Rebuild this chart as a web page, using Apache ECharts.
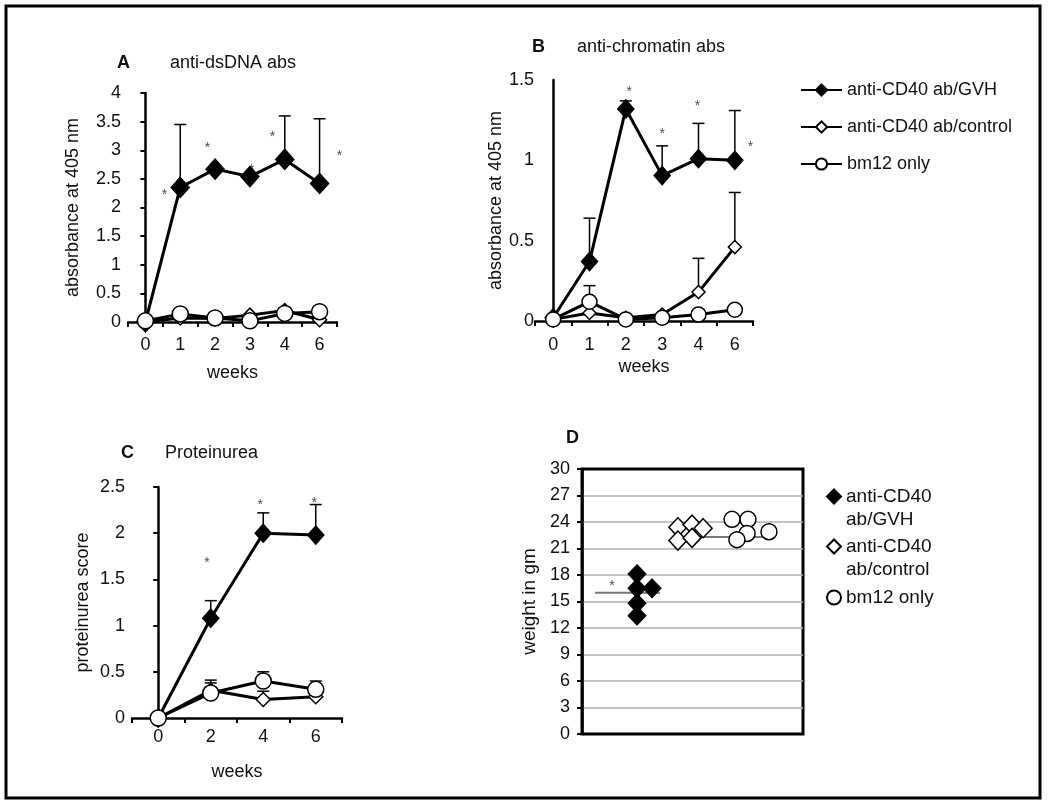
<!DOCTYPE html>
<html><head><meta charset="utf-8">
<script src="https://cdn.jsdelivr.net/npm/echarts@6/dist/echarts.min.js"></script>
<style>html,body{margin:0;padding:0;background:#fff}#c{width:1050px;height:809px}</style>
</head><body><div id="c"></div><script>
const FONT = 'Liberation Sans, Arial, sans-serif';
const seriesNames = ['anti-CD40 ab/GVH', 'anti-CD40 ab/control', 'bm12 only'];

// Panel A: anti-dsDNA abs
const weeksAB = ['0', '1', '2', '3', '4', '6'];
const aGvh = [0, 2.35, 2.67, 2.54, 2.84, 2.42];
const aCtrl = [0, 0.07, 0.06, 0.12, 0.2, 0.04];
const aBm12 = [0.02, 0.14, 0.07, 0.02, 0.15, 0.18];
const aGvhTop = [null, 3.45, null, null, 3.6, 3.55];
const aBm12Top = [null, 0.22, null, null, 0.25, null];
const aStarX = [0.55, 1.78, 3.05, 3.65, 5.57];
const aStarY = [2.29, 3.11, 2.72, 3.30, 2.97];

// Panel B: anti-chromatin abs
const bGvh = [0.02, 0.37, 1.32, 0.905, 1.01, 1.0];
const bCtrl = [0.01, 0.05, 0.02, 0.04, 0.18, 0.46];
const bBm12 = [0.01, 0.12, 0.01, 0.02, 0.04, 0.07];
const bGvhTop = [null, 0.64, 1.37, 1.09, 1.23, 1.31];
const bCtrlTop = [null, null, null, null, 0.39, 0.80];
const bBm12Top = [null, 0.22, null, null, null, null];
const bStarX = [2.09, 3.0, 3.97, 5.43];
const bStarY = [1.45, 1.19, 1.36, 1.11];

// Panel C: Proteinurea
const weeksC = ['0', '2', '4', '6'];
const cGvh = [0, 1.08, 2.0, 1.98];
const cCtrl = [0, 0.3, 0.2, 0.23];
const cBm12 = [0, 0.27, 0.4, 0.31];
const cGvhTop = [null, 1.27, 2.22, 2.31];
const cCtrlTop = [null, 0.38, 0.29, 0.27];
const cBm12Top = [null, 0.41, 0.5, 0.4];
const cStarX = [0.93, 1.94, 2.97];
const cStarY = [1.72, 2.35, 2.37];

// Panel D: weight in gm
const dNames = ['D:anti-CD40\nab/GVH', 'D:anti-CD40\nab/control', 'D:bm12 only'];
const dGvhX = [2.49, 2.49, 3.17, 2.49, 2.49];
const dGvhY = [18.1, 16.5, 16.5, 14.8, 13.4];
const dCtrlX = [4.34, 4.98, 5.48, 4.34, 4.98];
const dCtrlY = [23.4, 23.7, 23.3, 21.9, 22.2];
const dBm12X = [6.79, 7.51, 7.47, 7.01, 8.46];
const dBm12Y = [24.3, 24.3, 22.7, 22.0, 22.9];
const dMeanGvhX = [0.59, 3.53];
const dMeanGvhY = [16.0, 16.0];
const dMeanRestX = [5.02, 8.6];
const dMeanRestY = [22.3, 22.3];
const dStarX = [1.36];
const dStarY = [17.2];

const TXT = '#111';
const pairs = (xs, ys) => xs.map((x, i) => [x, ys[i]]);

function lineSeries(name, xi, yi, data, kind, sizes) {
  const filled = kind === 'gvh';
  return {
    name, type: 'line', xAxisIndex: xi, yAxisIndex: yi, data,
    symbol: kind === 'bm12' ? 'circle' : 'diamond',
    symbolSize: sizes[kind],
    lineStyle: { color: '#000', width: 3 },
    itemStyle: { color: filled ? '#000' : '#fff', borderColor: '#000', borderWidth: 1.5 },
    emphasis: { disabled: true }, z: 2, animation: false
  };
}
function errSeries(xi, yi, vals, tops) {
  const data = [];
  tops.forEach((t, i) => { if (t != null) data.push([i, vals[i], t]); });
  return {
    type: 'custom', xAxisIndex: xi, yAxisIndex: yi, silent: true, z: 1, animation: false,
    renderItem: (params, api) => {
      const p0 = api.coord([api.value(0), api.value(1)]);
      const p1 = api.coord([api.value(0), api.value(2)]);
      return { type: 'group', children: [
        { type: 'line', shape: { x1: p0[0], y1: p0[1], x2: p1[0], y2: p1[1] }, style: { stroke: '#000', lineWidth: 1.5 } },
        { type: 'line', shape: { x1: p1[0] - 6, y1: p1[1], x2: p1[0] + 6, y2: p1[1] }, style: { stroke: '#000', lineWidth: 1.5 } }
      ] };
    },
    data
  };
}
function starSeries(xi, yi, xs, ys) {
  return {
    type: 'scatter', xAxisIndex: xi, yAxisIndex: yi, data: pairs(xs, ys), silent: true, clip: false,
    symbol: 'circle', symbolSize: 2, itemStyle: { color: 'rgba(0,0,0,0)' }, z: 5, animation: false,
    label: { show: true, formatter: '*', position: 'inside', offset: [0, 4], fontSize: 14, color: '#222', fontFamily: FONT }
  };
}
function catAxis(gi, cats, margin, nameGap) {
  return {
    type: 'category', gridIndex: gi, data: cats, boundaryGap: true,
    axisLine: { lineStyle: { color: '#000', width: 2.5 } },
    axisTick: { show: true, length: 5, lineStyle: { color: '#000', width: 2 } },
    axisLabel: { color: TXT, fontSize: 18, fontFamily: FONT, margin },
    name: 'weeks', nameLocation: 'middle', nameGap,
    nameTextStyle: { color: TXT, fontSize: 18, fontFamily: FONT }
  };
}
function hiddenX(gi, min, max) {
  return { type: 'value', gridIndex: gi, min, max, show: false };
}
function valAxis(gi, max, interval, name, nameGap, opts) {
  return Object.assign({
    type: 'value', gridIndex: gi, min: 0, max, interval,
    axisLine: { show: true, lineStyle: { color: '#000', width: 2.5 } },
    axisTick: { show: true, length: 5, lineStyle: { color: '#000', width: 2 } },
    axisLabel: { color: TXT, fontSize: 18, fontFamily: FONT, margin: 7 },
    splitLine: { show: false },
    name, nameLocation: 'middle', nameGap, nameRotate: 90,
    nameTextStyle: { color: TXT, fontSize: 18, fontFamily: FONT }
  }, opts || {});
}
function titleItem(text, left, top, bold) {
  return { text, left, top, padding: 0,
    textStyle: { fontSize: 18, fontWeight: bold ? 'bold' : 'normal', color: TXT, fontFamily: FONT } };
}

const sizeA = { gvh: [18, 20], ctrl: 14, bm12: 16 };
const sizeB = { gvh: [16, 18], ctrl: 13, bm12: 15 };
const sizeC = { gvh: [16, 18], ctrl: 14, bm12: 16 };

const chart = echarts.init(document.getElementById('c'), null, { renderer: 'canvas' });
chart.setOption({
  backgroundColor: '#fff',
  animation: false,
  title: [
    titleItem('A', 117, 54, true), titleItem('anti-dsDNA abs', 170, 54),
    titleItem('B', 532, 38, true), titleItem('anti-chromatin abs', 577, 38),
    titleItem('C', 121, 444, true), titleItem('Proteinurea', 165, 444),
    titleItem('D', 566, 429, true)
  ],
  legend: [
    { data: seriesNames, orient: 'vertical', left: 800, top: 81, padding: 0, itemGap: 19,
      itemWidth: 41, itemHeight: 14,
      textStyle: { color: TXT, fontSize: 18, fontFamily: FONT }, selectedMode: false },
    { data: [dNames[0]], left: 826, top: 462, padding: 0, itemWidth: 14, itemHeight: 14, selectedMode: false,
      formatter: n => '\n' + n.replace('D:', ''),
      textStyle: { color: TXT, fontSize: 19, lineHeight: 23, fontFamily: FONT } },
    { data: [dNames[1]], left: 826, top: 512, padding: 0, itemWidth: 14, itemHeight: 14, selectedMode: false,
      formatter: n => '\n' + n.replace('D:', ''),
      textStyle: { color: TXT, fontSize: 19, lineHeight: 23, fontFamily: FONT } },
    { data: [dNames[2]], left: 826, top: 586, padding: 0, itemWidth: 14, itemHeight: 14, selectedMode: false,
      formatter: n => n.replace('D:', ''),
      textStyle: { color: TXT, fontSize: 19, lineHeight: 23, fontFamily: FONT } }
  ],
  grid: [
    { left: 128, top: 93, width: 209, height: 229 },
    { left: 535, top: 80, width: 218, height: 241 },
    { left: 132, top: 487, width: 210, height: 231 },
    { left: 582, top: 469, width: 221, height: 265, show: true, borderColor: '#000', borderWidth: 3, backgroundColor: '#fff' }
  ],
  xAxis: [
    catAxis(0, weeksAB, 14, 42), hiddenX(0, -0.5, 5.5),
    catAxis(1, weeksAB, 15, 37), hiddenX(1, -0.5, 5.5),
    catAxis(2, weeksC, 10, 45), hiddenX(2, -0.5, 3.5),
    hiddenX(3, 0, 10)
  ],
  yAxis: [
    valAxis(0, 4, 0.5, 'absorbance at 405 nm', 46),
    valAxis(1, 1.5, 0.5, 'absorbance at 405 nm', 24, {
      axisTick: { show: false },
      axisLabel: { color: TXT, fontSize: 18, fontFamily: FONT, margin: 1 } }),
    valAxis(2, 2.5, 0.5, 'proteinurea score', 40),
    valAxis(3, 30, 3, 'weight in gm', 43, {
      axisLabel: { color: TXT, fontSize: 18, fontFamily: FONT, margin: 12 },
      splitLine: { show: true, showMinLine: false, showMaxLine: false, lineStyle: { color: '#b0b0b0', width: 1.5 } },
      nameTextStyle: { color: TXT, fontSize: 19, fontFamily: FONT } })
  ],
  series: [
    // A
    errSeries(0, 0, aGvh, aGvhTop), errSeries(0, 0, aBm12, aBm12Top),
    lineSeries(seriesNames[0], 0, 0, aGvh, 'gvh', sizeA),
    lineSeries(seriesNames[1], 0, 0, aCtrl, 'ctrl', sizeA),
    lineSeries(seriesNames[2], 0, 0, aBm12, 'bm12', sizeA),
    starSeries(1, 0, aStarX, aStarY),
    // B
    errSeries(2, 1, bGvh, bGvhTop), errSeries(2, 1, bCtrl, bCtrlTop), errSeries(2, 1, bBm12, bBm12Top),
    lineSeries(seriesNames[0], 2, 1, bGvh, 'gvh', sizeB),
    lineSeries(seriesNames[1], 2, 1, bCtrl, 'ctrl', sizeB),
    lineSeries(seriesNames[2], 2, 1, bBm12, 'bm12', sizeB),
    starSeries(3, 1, bStarX, bStarY),
    // C
    errSeries(4, 2, cGvh, cGvhTop), errSeries(4, 2, cCtrl, cCtrlTop), errSeries(4, 2, cBm12, cBm12Top),
    lineSeries(seriesNames[0], 4, 2, cGvh, 'gvh', sizeC),
    lineSeries(seriesNames[1], 4, 2, cCtrl, 'ctrl', sizeC),
    lineSeries(seriesNames[2], 4, 2, cBm12, 'bm12', sizeC),
    starSeries(5, 2, cStarX, cStarY),
    // D
    { type: 'line', xAxisIndex: 6, yAxisIndex: 3, data: pairs(dMeanGvhX, dMeanGvhY), symbol: 'none',
      lineStyle: { color: '#777', width: 2 }, silent: true, z: 1, animation: false },
    { type: 'line', xAxisIndex: 6, yAxisIndex: 3, data: pairs(dMeanRestX, dMeanRestY), symbol: 'none',
      lineStyle: { color: '#777', width: 2 }, silent: true, z: 1, animation: false },
    { name: dNames[0], type: 'scatter', xAxisIndex: 6, yAxisIndex: 3, data: pairs(dGvhX, dGvhY),
      symbol: 'diamond', symbolSize: [18, 19], itemStyle: { color: '#000', borderColor: '#000', borderWidth: 1, opacity: 1 }, z: 3 },
    { name: dNames[1], type: 'scatter', xAxisIndex: 6, yAxisIndex: 3, data: pairs(dCtrlX, dCtrlY),
      symbol: 'diamond', symbolSize: [18, 19], itemStyle: { color: '#fff', borderColor: '#000', borderWidth: 1.5, opacity: 1 }, z: 3 },
    { name: dNames[2], type: 'scatter', xAxisIndex: 6, yAxisIndex: 3, data: pairs(dBm12X, dBm12Y),
      symbol: 'circle', symbolSize: 16, itemStyle: { color: '#fff', borderColor: '#000', borderWidth: 1.5, opacity: 1 }, z: 3 },
    starSeries(6, 3, dStarX, dStarY)
  ],
  graphic: [
    { type: 'rect', shape: { x: 6, y: 6, width: 1034, height: 792 }, style: { fill: 'none', stroke: '#000', lineWidth: 3 }, z: 100, silent: true }
  ]
});
</script></body></html>
